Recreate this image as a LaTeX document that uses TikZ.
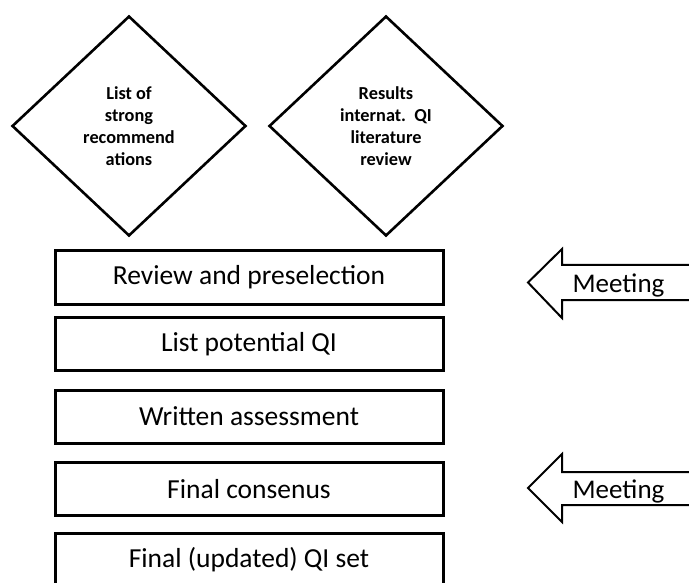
\documentclass[tikz,border=0pt]{standalone}
\usepackage{fontspec}
\setmainfont{Carlito}
\usetikzlibrary{shapes.geometric}
\begin{document}
\begin{tikzpicture}[x=1pt,y=-1pt,
  diam/.style={draw,line width=2.6pt,shape=diamond,inner sep=0pt,
    minimum width=234pt,minimum height=220pt,align=center,
    font=\fontsize{18.3}{22}\selectfont\bfseries},
  stepbox/.style={draw,line width=3pt,minimum width=388pt,minimum height=53pt,
    inner sep=0pt,font=\fontsize{27.5}{31}\selectfont},
  meetarrow/.style={draw,line width=2pt,line join=miter},
  meettext/.style={inner sep=0pt,font=\fontsize{27}{31}\selectfont}]
\useasboundingbox (0,0) rectangle (689,583);
\clip (0,0) rectangle (689,583);
\node[diam] (d1) at (129,126) {List of\\strong\\recommend\\ations};
\node[diam] (d2) at (386,126) {Results\\internat.\ \ QI\\literature\\review};
\node[stepbox] (b1) at (249,277.5) {Review and preselection};
\node[stepbox] (b2) at (249,344) {List potential QI};
\node[stepbox] (b3) at (249,416.5) {Written assessment};
\node[stepbox] (b4) at (249,489) {Final consenus};
\node[stepbox] (b5) at (249,560) {Final (updated) QI set};
\draw[meetarrow] (700,265) -- (562,265) -- (562,249) -- (528,282.5) -- (562,318) -- (562,300) -- (700,300);
\node[meettext] (m1) at (618.5,285) {Meeting};
\draw[meetarrow] (700,472) -- (562,472) -- (562,454) -- (528,488) -- (562,522) -- (562,505) -- (700,505);
\node[meettext] (m2) at (618.5,491) {Meeting};
\end{tikzpicture}
\end{document}
